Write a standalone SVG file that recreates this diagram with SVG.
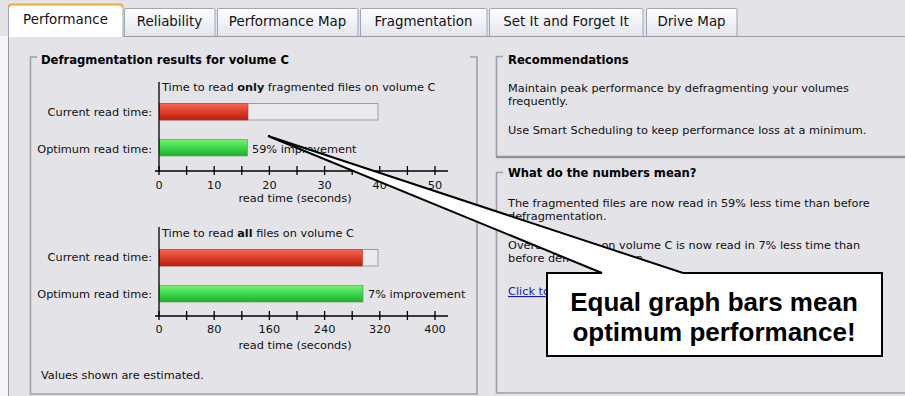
<svg xmlns="http://www.w3.org/2000/svg" width="905" height="396" viewBox="0 0 905 396">
<defs>
  <linearGradient id="tabGrad" x1="0" y1="0" x2="0" y2="1">
    <stop offset="0" stop-color="#ffffff"/>
    <stop offset="1" stop-color="#e3e5ee"/>
  </linearGradient>
  <linearGradient id="redGrad" x1="0" y1="0" x2="0" y2="1">
    <stop offset="0" stop-color="#f66a58"/>
    <stop offset="0.5" stop-color="#dc3d2b"/>
    <stop offset="1" stop-color="#b51c0f"/>
  </linearGradient>
  <linearGradient id="greenGrad" x1="0" y1="0" x2="0" y2="1">
    <stop offset="0" stop-color="#74f274"/>
    <stop offset="0.5" stop-color="#3ed84c"/>
    <stop offset="1" stop-color="#1ea92e"/>
  </linearGradient>
</defs>
<style>
  .ui { font-family: "DejaVu Sans", Verdana, sans-serif; font-size: 11.3px; fill: #111; }
  .b { font-weight: bold; }
  .title { font-family: "DejaVu Sans", Verdana, sans-serif; font-size: 11.6px; font-weight: bold; fill: #000; }
  .tab { font-family: "DejaVu Sans", Verdana, sans-serif; font-size: 13.4px; fill: #111; text-anchor: middle; }
  .tabshape { fill: url(#tabGrad); stroke: #9ea6b6; stroke-width: 1; }
  .gb { fill: none; stroke: #a0a0a8; stroke-width: 1.6; }
  .frame { fill: #ebebee; stroke: #9c9ca0; stroke-width: 1; }
  .red { fill: url(#redGrad); stroke: #b83a30; stroke-width: 0.6; }
  .green { fill: url(#greenGrad); stroke: #6aa86a; stroke-width: 0.8; }
  .axis { stroke: #000; stroke-width: 1.3; fill: none; }
  .mid { text-anchor: middle; }
  .end { text-anchor: end; }
  .link { fill: #1c1ca8; text-decoration: underline; }
  .callout { fill: #fff; stroke: #000; stroke-width: 2; stroke-linejoin: miter; }
  .calltext { font-family: "Liberation Sans", Arial, sans-serif; font-weight: bold; font-size: 26px; fill: #000; text-anchor: middle; }
</style>

<!-- background -->
<rect x="0" y="0" width="905" height="396" fill="#e3e3e8"/>
<rect x="0" y="36" width="8" height="360" fill="#f6f6f8"/>
<line x1="8.5" y1="36" x2="8.5" y2="396" stroke="#9a9aa2" stroke-width="1"/>
<line x1="123" y1="36.5" x2="905" y2="36.5" stroke="#9a9aa2" stroke-width="1"/>

<!-- tabs -->
<g id="tab-reliability">
  <path class="tabshape" d="M124.5,36 V10 Q124.5,8.5 126,8.5 H213.5 Q215,8.5 215,10 V36"/>
  <text class="tab" x="169.5" y="26">Reliability</text>
</g>
<g id="tab-performance-map">
  <path class="tabshape" d="M217.5,36 V10 Q217.5,8.5 219,8.5 H356.5 Q358,8.5 358,10 V36"/>
  <text class="tab" x="287.5" y="26">Performance Map</text>
</g>
<g id="tab-fragmentation">
  <path class="tabshape" d="M360.5,36 V10 Q360.5,8.5 362,8.5 H485.5 Q487,8.5 487,10 V36"/>
  <text class="tab" x="423.5" y="26">Fragmentation</text>
</g>
<g id="tab-set-it">
  <path class="tabshape" d="M489.5,36 V10 Q489.5,8.5 491,8.5 H641.5 Q643,8.5 643,10 V36"/>
  <text class="tab" x="566" y="26">Set It and Forget It</text>
</g>
<g id="tab-drive-map">
  <path class="tabshape" d="M646.5,36 V10 Q646.5,8.5 648,8.5 H735.5 Q737,8.5 737,10 V36"/>
  <text class="tab" x="691.5" y="26">Drive Map</text>
</g>
<g id="tab-performance">
  <path d="M8.5,37 V7 Q8.5,4.5 11,4.5 H120.5 Q123,4.5 123,7 V37" fill="#ffffff" stroke="#9ea6b6" stroke-width="1"/>
  <path d="M9,7 Q9,4.5 11.5,4.5 H120 Q122.5,4.5 122.5,7" fill="none" stroke="#f0a838" stroke-width="2.2"/>
  <text class="tab" x="65.5" y="24">Performance</text>
</g>

<!-- left group box -->
<g id="defrag-results">
  <path class="gb" d="M37,57 H30.5 V394 H477 V57 H470"/>
  <text class="title" x="41" y="64">Defragmentation results for volume C</text>

  <!-- chart 1 -->
  <g id="chart-fragmented">
    <text class="ui" x="162" y="91">Time to read <tspan class="b">only</tspan> fragmented files on volume C</text>
    <text class="ui end" x="152" y="116">Current read time:</text>
    <text class="ui end" x="152" y="153">Optimum read time:</text>
    <rect class="frame" x="159.5" y="103.5" width="218.5" height="16.5"/>
    <rect class="red" x="159.5" y="103.5" width="88.5" height="16.5"/>
    <rect class="green" x="159.5" y="139.5" width="88" height="16.5"/>
    <text class="ui" x="252" y="153">59% improvement</text>
    <line class="axis" x1="159" y1="82" x2="159" y2="172"/>
    <line class="axis" x1="155" y1="171" x2="448" y2="171"/>
    <path class="axis" d="M159,166V175 M186.6,166V175 M214.2,166V175 M241.8,166V175 M269.4,166V175 M297,166V175 M324.6,166V175 M352.2,166V175 M379.8,166V175 M407.4,166V175 M435,166V175"/>
    <text class="ui mid" x="159" y="189">0</text>
    <text class="ui mid" x="214.2" y="189">10</text>
    <text class="ui mid" x="269.4" y="189">20</text>
    <text class="ui mid" x="324.6" y="189">30</text>
    <text class="ui mid" x="379.8" y="189">40</text>
    <text class="ui mid" x="435" y="189">50</text>
    <text class="ui mid" x="295" y="202">read time (seconds)</text>
  </g>

  <!-- chart 2 -->
  <g id="chart-all">
    <text class="ui" x="162" y="237">Time to read <tspan class="b">all</tspan> files on volume C</text>
    <text class="ui end" x="152" y="261">Current read time:</text>
    <text class="ui end" x="152" y="298">Optimum read time:</text>
    <rect class="frame" x="159.5" y="249.5" width="218.5" height="16.5"/>
    <rect class="red" x="159.5" y="249.5" width="203" height="16.5"/>
    <rect class="green" x="159.5" y="285.5" width="203.5" height="16.5"/>
    <text class="ui" x="368" y="298">7% improvement</text>
    <line class="axis" x1="159" y1="227" x2="159" y2="317"/>
    <line class="axis" x1="155" y1="316" x2="448" y2="316"/>
    <path class="axis" d="M159,311V320 M186.6,311V320 M214.2,311V320 M241.8,311V320 M269.4,311V320 M297,311V320 M324.6,311V320 M352.2,311V320 M379.8,311V320 M407.4,311V320 M435,311V320"/>
    <text class="ui mid" x="159" y="333">0</text>
    <text class="ui mid" x="214.2" y="333">80</text>
    <text class="ui mid" x="269.4" y="333">160</text>
    <text class="ui mid" x="324.6" y="333">240</text>
    <text class="ui mid" x="379.8" y="333">320</text>
    <text class="ui mid" x="435" y="333">400</text>
    <text class="ui mid" x="295" y="349">read time (seconds)</text>
  </g>

  <text class="ui" x="41" y="379">Values shown are estimated.</text>
</g>

<!-- recommendations -->
<g id="recommendations">
  <path class="gb" d="M503,56.5 H496.5 V157"/>
  <line x1="496" y1="157" x2="905" y2="157" stroke="#949498" stroke-width="2.6"/>
  <text class="title" x="508" y="64">Recommendations</text>
  <text class="ui" x="508" y="92">Maintain peak performance by defragmenting your volumes</text>
  <text class="ui" x="508" y="105">frequently.</text>
  <text class="ui" x="508" y="134">Use Smart Scheduling to keep performance loss at a minimum.</text>
</g>

<!-- numbers meaning -->
<g id="numbers-meaning">
  <path class="gb" d="M503,172.5 H496.5 V393 H905"/>
  <text class="title" x="508" y="177">What do the numbers mean?</text>
  <text class="ui" x="508" y="207">The fragmented files are now read in 59% less time than before</text>
  <text class="ui" x="508" y="220">defragmentation.</text>
  <text class="ui" x="508" y="249">Overall, all data on volume C is now read in 7% less time than</text>
  <text class="ui" x="508" y="262">before defragmentation.</text>
  <text class="ui link" x="508" y="295">Click to</text>
</g>

<!-- callout -->
<g id="callout">
  <path class="callout" d="M547,273 H602 L268,136 L683,273 H882 V356 H547 Z"/>
  <text class="calltext" x="714" y="311">Equal graph bars mean</text>
  <text class="calltext" x="714" y="341">optimum performance!</text>
</g>
</svg>
